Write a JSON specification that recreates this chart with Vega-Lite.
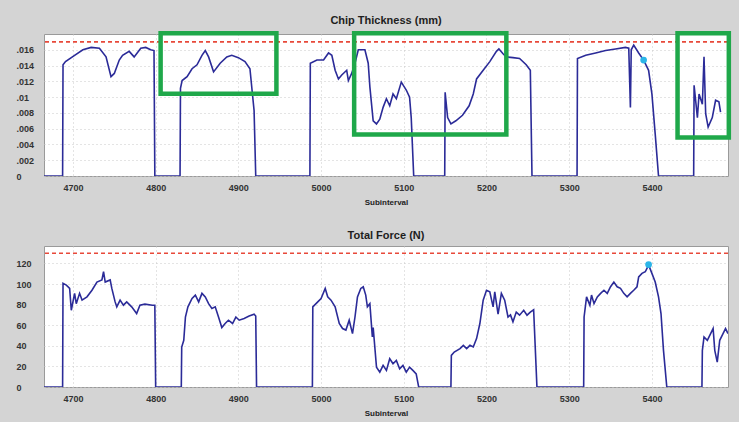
{
  "$schema": "https://vega.github.io/schema/vega-lite/v6.json",
  "background": "#d4d4d4",
  "padding": {"left": 15, "top": 14, "right": 12, "bottom": 4},
  "spacing": 22,
  "datasets": {
    "chip": [
      {"s":4665,"v":0},{"s":4687.5,"v":0},{"s":4688,"v":0.0141},{"s":4691,"v":0.0145},{"s":4702,"v":0.0153},{"s":4712,"v":0.0160},{"s":4722,"v":0.0163},{"s":4732,"v":0.0162},{"s":4740,"v":0.0151},{"s":4746,"v":0.0126},{"s":4750,"v":0.0130},{"s":4756,"v":0.0147},{"s":4760,"v":0.0153},{"s":4768,"v":0.0158},{"s":4774,"v":0.0151},{"s":4782,"v":0.0162},{"s":4788,"v":0.0163},{"s":4794,"v":0.0160},{"s":4798,"v":0.0159},{"s":4799,"v":0},
      {"s":4829.5,"v":0},{"s":4830,"v":0.0111},{"s":4832,"v":0.0121},{"s":4838,"v":0.0126},{"s":4844,"v":0.0136},{"s":4850,"v":0.0141},{"s":4856,"v":0.0153},{"s":4860,"v":0.0159},{"s":4864,"v":0.0151},{"s":4870,"v":0.0132},{"s":4878,"v":0.0143},{"s":4886,"v":0.0151},{"s":4892,"v":0.0153},{"s":4900,"v":0.0150},{"s":4908,"v":0.0145},{"s":4914,"v":0.0136},{"s":4917,"v":0.0104},{"s":4919,"v":0.0083},{"s":4921,"v":0},
      {"s":4986.5,"v":0},{"s":4987,"v":0.0143},{"s":4995,"v":0.0147},{"s":5003,"v":0.0147},{"s":5009,"v":0.0156},{"s":5013,"v":0.0153},{"s":5017,"v":0.0134},{"s":5021,"v":0.0123},{"s":5025,"v":0.0128},{"s":5031,"v":0.0134},{"s":5033,"v":0.0121},{"s":5037,"v":0.0130},{"s":5041,"v":0.0143},{"s":5045,"v":0.0160},{"s":5053,"v":0.0160},{"s":5057,"v":0.0143},{"s":5059,"v":0.0113},{"s":5063,"v":0.0070},{"s":5067,"v":0.0066},{"s":5071,"v":0.0072},{"s":5075,"v":0.0087},{"s":5079,"v":0.0098},{"s":5083,"v":0.0089},{"s":5087,"v":0.0104},{"s":5091,"v":0.0098},{"s":5097,"v":0.0119},{"s":5103,"v":0.0109},{"s":5107,"v":0.0100},{"s":5109,"v":0.0074},{"s":5112,"v":0},
      {"s":5149.5,"v":0},{"s":5150,"v":0.0106},{"s":5153,"v":0.0074},{"s":5157,"v":0.0066},{"s":5163,"v":0.0070},{"s":5171,"v":0.0077},{"s":5179,"v":0.0089},{"s":5184,"v":0.0104},{"s":5188,"v":0.0123},{"s":5196,"v":0.0134},{"s":5204,"v":0.0145},{"s":5212,"v":0.0158},{"s":5215,"v":0.0161},{"s":5220,"v":0.0155},{"s":5224,"v":0.0151},{"s":5232,"v":0.0150},{"s":5240,"v":0.0149},{"s":5248,"v":0.0141},{"s":5253,"v":0.0134},{"s":5255,"v":0},
      {"s":5309.5,"v":0},{"s":5310,"v":0.0149},{"s":5320,"v":0.0153},{"s":5332,"v":0.0156},{"s":5344,"v":0.0159},{"s":5356,"v":0.0161},{"s":5368,"v":0.0163},{"s":5372,"v":0.0162},{"s":5374,"v":0.0087},{"s":5375,"v":0.0160},{"s":5378,"v":0.0166},{"s":5384,"v":0.0156},{"s":5390,"v":0.0147},{"s":5396,"v":0.0134},{"s":5400,"v":0.0104},{"s":5404,"v":0.0053},{"s":5408,"v":0},
      {"s":5450.5,"v":0},{"s":5451,"v":0.0115},{"s":5455,"v":0.0074},{"s":5457,"v":0.0104},{"s":5461,"v":0.0091},{"s":5463,"v":0.0151},{"s":5465,"v":0.0079},{"s":5468,"v":0.0062},{"s":5473,"v":0.0074},{"s":5477,"v":0.0096},{"s":5481,"v":0.0094},{"s":5483,"v":0.0081}
    ],
    "force": [
      {"s":4665,"f":0},{"s":4687.5,"f":0},{"s":4688,"f":100.7},{"s":4692,"f":99},{"s":4696,"f":95.8},{"s":4698,"f":74.6},{"s":4702,"f":91},{"s":4704,"f":81},{"s":4708,"f":91},{"s":4711,"f":84.4},{"s":4717,"f":87.6},{"s":4723,"f":94},{"s":4729,"f":102},{"s":4735,"f":104},{"s":4737,"f":112},{"s":4739,"f":102},{"s":4745,"f":104},{"s":4747,"f":95.8},{"s":4751,"f":82.7},{"s":4753,"f":77.9},{"s":4757,"f":84.4},{"s":4761,"f":79.5},{"s":4765,"f":82.7},{"s":4771,"f":77.9},{"s":4777,"f":71.4},{"s":4781,"f":79.5},{"s":4787,"f":80.5},{"s":4796,"f":79.5},{"s":4799,"f":79.5},{"s":4800,"f":0},
      {"s":4831,"f":0},{"s":4831.5,"f":38.8},{"s":4834,"f":45.4},{"s":4836,"f":68},{"s":4839,"f":77.9},{"s":4844,"f":86},{"s":4848,"f":89.3},{"s":4852,"f":82.7},{"s":4856,"f":91},{"s":4860,"f":87.6},{"s":4864,"f":81},{"s":4868,"f":76.3},{"s":4872,"f":77.9},{"s":4876,"f":68},{"s":4880,"f":57.8},{"s":4884,"f":61.7},{"s":4888,"f":64.9},{"s":4893,"f":61.7},{"s":4897,"f":68},{"s":4901,"f":64.9},{"s":4907,"f":66.5},{"s":4913,"f":68.9},{"s":4919,"f":70.7},{"s":4921,"f":69},{"s":4922,"f":0},
      {"s":4989.5,"f":0},{"s":4990,"f":77.9},{"s":4996,"f":82.7},{"s":5000,"f":86},{"s":5005,"f":95.8},{"s":5008,"f":87.6},{"s":5012,"f":84.4},{"s":5017,"f":77.9},{"s":5022,"f":61.7},{"s":5026,"f":56.8},{"s":5030,"f":55.3},{"s":5034,"f":64.9},{"s":5038,"f":51.9},{"s":5041,"f":68},{"s":5044,"f":87.6},{"s":5048,"f":95.8},{"s":5051,"f":97.4},{"s":5054,"f":89.3},{"s":5056,"f":77.9},{"s":5059,"f":81},{"s":5062,"f":48.6},{"s":5063,"f":57.8},{"s":5067,"f":19.3},{"s":5071,"f":14.4},{"s":5075,"f":21},{"s":5079,"f":16.1},{"s":5083,"f":27.5},{"s":5087,"f":22.6},{"s":5091,"f":25.9},{"s":5095,"f":17.7},{"s":5099,"f":21},{"s":5103,"f":14.4},{"s":5107,"f":19.3},{"s":5111,"f":16.1},{"s":5115,"f":12.8},{"s":5118,"f":0},
      {"s":5157,"f":0},{"s":5157.5,"f":30.7},{"s":5161,"f":34},{"s":5168,"f":37.3},{"s":5172,"f":40.5},{"s":5176,"f":37.3},{"s":5180,"f":40.5},{"s":5184,"f":38.9},{"s":5188,"f":47},{"s":5192,"f":61.7},{"s":5196,"f":84.4},{"s":5200,"f":94},{"s":5204,"f":92.4},{"s":5208,"f":77.9},{"s":5210,"f":92.4},{"s":5214,"f":70.7},{"s":5218,"f":91},{"s":5222,"f":84.4},{"s":5226,"f":68},{"s":5229,"f":70},{"s":5232,"f":63.3},{"s":5236,"f":72.8},{"s":5240,"f":69.8},{"s":5245,"f":74.6},{"s":5249,"f":69.8},{"s":5253,"f":72.8},{"s":5257,"f":75},{"s":5261,"f":0},
      {"s":5317.5,"f":0},{"s":5318,"f":68},{"s":5321,"f":87.6},{"s":5325,"f":79.5},{"s":5327,"f":89.3},{"s":5330,"f":81},{"s":5334,"f":87.6},{"s":5338,"f":91},{"s":5342,"f":94},{"s":5346,"f":91},{"s":5350,"f":97.4},{"s":5354,"f":102},{"s":5358,"f":97.4},{"s":5362,"f":95.8},{"s":5366,"f":91},{"s":5370,"f":87.6},{"s":5374,"f":91},{"s":5378,"f":94},{"s":5382,"f":97.4},{"s":5384,"f":107},{"s":5388,"f":110.4},{"s":5392,"f":112},{"s":5396,"f":118.5},{"s":5400,"f":110.4},{"s":5404,"f":102},{"s":5408,"f":87.6},{"s":5411,"f":71.4},{"s":5414,"f":35.6},{"s":5418,"f":0},
      {"s":5460.5,"f":0},{"s":5461,"f":35.6},{"s":5463,"f":48.6},{"s":5467,"f":45.4},{"s":5471,"f":51.9},{"s":5474,"f":56.8},{"s":5476,"f":35.6},{"s":5479,"f":24.2},{"s":5482,"f":45.4},{"s":5486,"f":51.9},{"s":5489,"f":56.8},{"s":5492,"f":51.9}
    ],
    "boxes": [
      {"x1":4806,"x2":4946,"y1":0.01042,"y2":0.0181},
      {"x1":5040,"x2":5224,"y1":0.00526,"y2":0.0181},
      {"x1":5431,"x2":5493,"y1":0.00487,"y2":0.0181}
    ]
  },
  "vconcat": [
    {
      "title": {"text": "Chip Thickness (mm)"},
      "width": 684,
      "height": 142,
      "layer": [
        {
          "data": {"name": "chip"},
          "mark": {"type": "line", "color": "#2b2b98", "strokeWidth": 1.6, "clip": true},
          "encoding": {
            "x": {"field": "s", "type": "quantitative", "title": "Subinterval",
                  "scale": {"domain": [4665, 5492], "nice": false, "zero": false},
                  "axis": {"values": [4700, 4800, 4900, 5000, 5100, 5200, 5300, 5400], "tickCount": 20, "format": "d"}},
            "y": {"field": "v", "type": "quantitative", "title": null,
                  "scale": {"domain": [0, 0.018], "nice": false},
                  "axis": {"values": [0, 0.002, 0.004, 0.006, 0.008, 0.01, 0.012, 0.014, 0.016],
                           "tickCount": 20,
                           "labelExpr": "replace(format(datum.value, '.3~f'), '0.', '.')"}}
          }
        },
        {
          "data": {"values": [{"limit": 0.017}]},
          "mark": {"type": "rule", "color": "#e8493a", "strokeDash": [4, 3], "strokeWidth": 1.6},
          "encoding": {"y": {"field": "limit", "type": "quantitative"}}
        },
        {
          "data": {"name": "boxes"},
          "mark": {"type": "rect", "filled": false, "stroke": "#1fa84a", "strokeWidth": 4.5},
          "encoding": {
            "x": {"field": "x1", "type": "quantitative"},
            "x2": {"field": "x2"},
            "y": {"field": "y1", "type": "quantitative"},
            "y2": {"field": "y2"}
          }
        },
        {
          "data": {"values": [{"s": 5390, "v": 0.0147}]},
          "mark": {"type": "circle", "color": "#2bb5e8", "size": 45, "opacity": 1},
          "encoding": {
            "x": {"field": "s", "type": "quantitative"},
            "y": {"field": "v", "type": "quantitative"}
          }
        }
      ]
    },
    {
      "title": {"text": "Total Force (N)"},
      "width": 684,
      "height": 141,
      "layer": [
        {
          "data": {"name": "force"},
          "mark": {"type": "line", "color": "#2b2b98", "strokeWidth": 1.6, "clip": true},
          "encoding": {
            "x": {"field": "s", "type": "quantitative", "title": "Subinterval",
                  "scale": {"domain": [4665, 5492], "nice": false, "zero": false},
                  "axis": {"values": [4700, 4800, 4900, 5000, 5100, 5200, 5300, 5400], "tickCount": 20, "format": "d"}},
            "y": {"field": "f", "type": "quantitative", "title": null,
                  "scale": {"domain": [0, 137], "nice": false},
                  "axis": {"values": [0, 20, 40, 60, 80, 100, 120], "tickCount": 20}}
          }
        },
        {
          "data": {"values": [{"limit": 130}]},
          "mark": {"type": "rule", "color": "#e8493a", "strokeDash": [4, 3], "strokeWidth": 1.6},
          "encoding": {"y": {"field": "limit", "type": "quantitative"}}
        },
        {
          "data": {"values": [{"s": 5396, "f": 119}]},
          "mark": {"type": "circle", "color": "#2bb5e8", "size": 45, "opacity": 1},
          "encoding": {
            "x": {"field": "s", "type": "quantitative"},
            "y": {"field": "f", "type": "quantitative"}
          }
        }
      ]
    }
  ],
  "config": {
    "font": "Liberation Sans",
    "view": {"fill": "#ffffff", "stroke": "#9a9a9a", "strokeWidth": 1},
    "title": {"fontSize": 11, "fontWeight": "bold", "color": "#1e1e1e", "offset": 5, "anchor": "middle"},
    "axis": {
      "domain": false,
      "ticks": false,
      "tickSize": 0,
      "labelOverlap": false,
      "labelFont": "Liberation Sans",
      "labelFontSize": 9,
      "labelFontWeight": "bold",
      "labelColor": "#333333",
      "titleFont": "Liberation Sans",
      "titleFontSize": 8,
      "titleFontWeight": "bold",
      "titleColor": "#222222",
      "grid": true,
      "gridColor": "#c8c8c8",
      "gridDash": [1, 3],
      "gridWidth": 1
    },
    "axisX": {"labelPadding": 7, "titlePadding": 6},
    "axisY": {"labelAlign": "left", "labelPadding": 28}
  }
}
